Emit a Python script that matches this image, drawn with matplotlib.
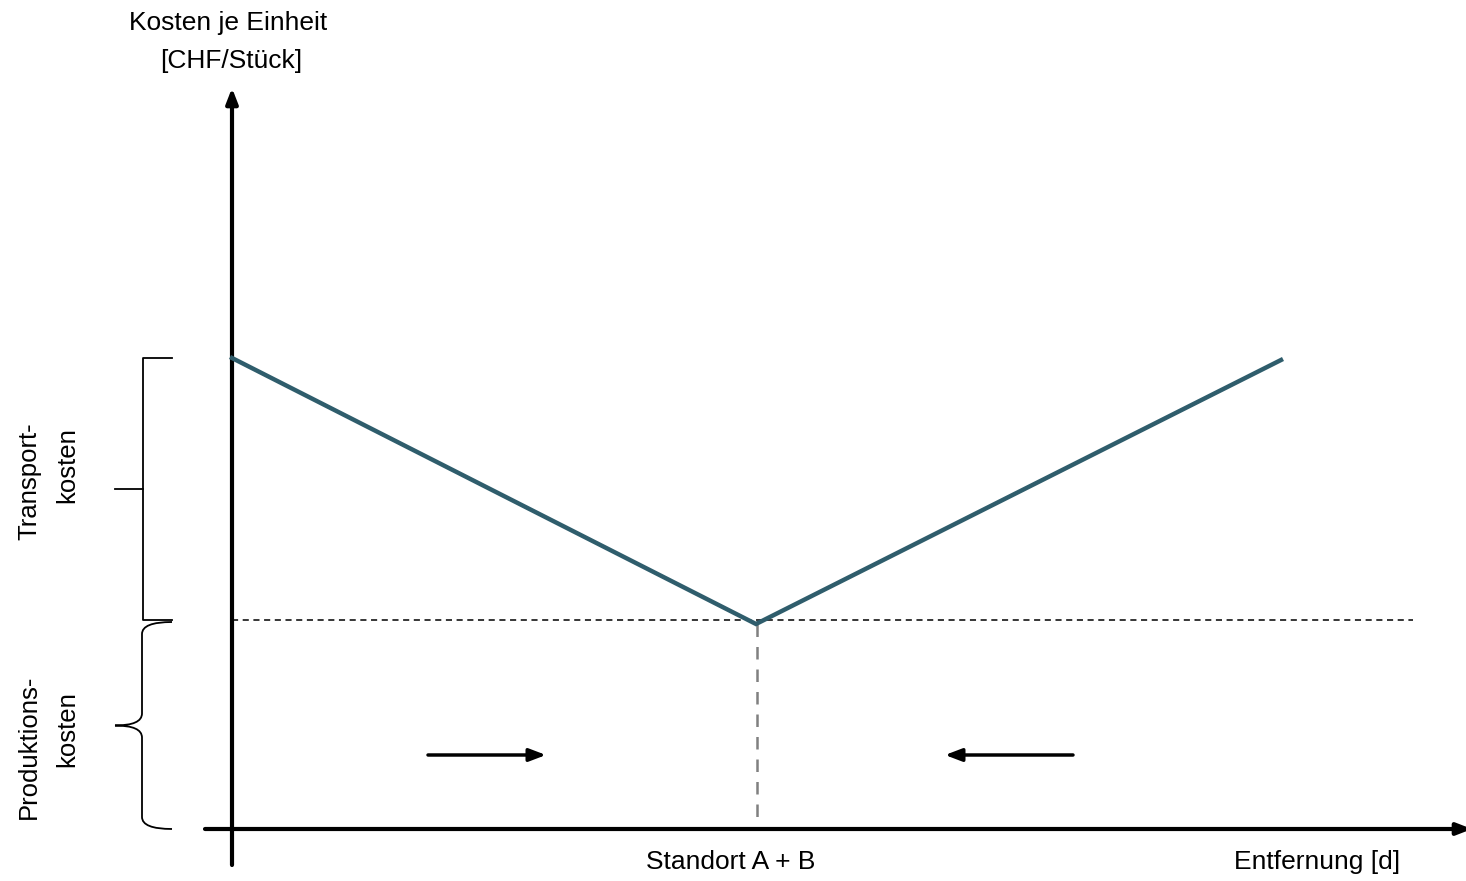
import matplotlib
matplotlib.use("Agg")
import matplotlib.pyplot as plt
from matplotlib.path import Path
from matplotlib.patches import PathPatch

plt.rcParams['font.family'] = ['Liberation Sans', 'DejaVu Sans']

# cost curve (distance, cost per unit) - schematic units
distance = [0.0, 5.24, 10.49]
cost = [4.71, 2.05, 4.69]

prod_cost = 2.09          # level of production costs
prod_line_end = 11.81
standort_x = 5.25

transport_range = (2.09, 4.71)
prod_range = (0.0, 2.07)

fig = plt.figure(figsize=(14.66, 8.81), dpi=100)
ax = fig.add_axes([0, 0, 1, 1])
ax.set_xlim(-2.32, 12.34)
ax.set_ylim(-0.52, 8.29)
ax.axis('off')

# axes with arrows
ax.annotate('', xy=(0, 7.41), xytext=(0, -0.36),
            arrowprops=dict(arrowstyle='-|>,head_length=0.9,head_width=0.35', lw=3, color='black',
                            shrinkA=0, shrinkB=0))
ax.annotate('', xy=(12.40, 0), xytext=(-0.27, 0),
            arrowprops=dict(arrowstyle='-|>,head_length=0.9,head_width=0.35', lw=3, color='black',
                            shrinkA=0, shrinkB=0), annotation_clip=False)

# dashed helper lines
ax.plot([0, prod_line_end], [prod_cost, prod_cost], ls=(0, (4, 3)), color='black', lw=1.1)
ax.plot([standort_x, standort_x], [min(cost), 0.03], ls=(0, (5, 4)), color='#808080', lw=1.8)

# cost curve
ax.plot(distance, cost, color='#2f5d6c', lw=3.2, solid_joinstyle='miter', zorder=3)

# square bracket for transport costs
bx = -0.89
ax.plot([-0.60, bx, bx, -0.60], [transport_range[1], transport_range[1], transport_range[0], transport_range[0]],
        color='black', lw=1.3)
ax.plot([-1.17, bx], [sum(transport_range) / 2] * 2, color='black', lw=1.3)

# curly brace for production costs
lo, hi = prod_range
mid = (lo + hi) / 2
cx = -0.90
r = 0.12
verts = [(-0.60, hi), (cx, hi), (cx, hi - r),
         (cx, mid + r), (cx, mid), (-1.17, mid),
         (cx, mid), (cx, mid - r),
         (cx, lo + r), (cx, lo), (-0.60, lo)]
codes = [Path.MOVETO, Path.CURVE3, Path.CURVE3,
         Path.LINETO, Path.CURVE3, Path.CURVE3,
         Path.CURVE3, Path.CURVE3,
         Path.LINETO, Path.CURVE3, Path.CURVE3]
ax.add_patch(PathPatch(Path(verts, codes), fill=False, lw=1.3, color='black'))

# movement arrows
arrow_y = 0.74
ax.annotate('', xy=(3.14, arrow_y), xytext=(1.96, arrow_y),
            arrowprops=dict(arrowstyle='-|>,head_length=1.0,head_width=0.38', lw=2.5, color='black',
                            shrinkA=0, shrinkB=0))
ax.annotate('', xy=(7.13, arrow_y), xytext=(8.41, arrow_y),
            arrowprops=dict(arrowstyle='-|>,head_length=1.0,head_width=0.38', lw=2.5, color='black',
                            shrinkA=0, shrinkB=0))

# texts
fs = 19
ax.text(-0.035, 8.06, 'Kosten je Einheit', ha='center', va='center', fontsize=fs)
ax.text(-0.005, 7.68, '[CHF/Stück]', ha='center', va='center', fontsize=fs)
ax.text(4.99, -0.33, 'Standort A + B', ha='center', va='center', fontsize=fs)
ax.text(10.855, -0.33, 'Entfernung [d]', ha='center', va='center', fontsize=fs)

fr = 18.5
ax.text(-2.03, 3.48, 'Transport-', ha='center', va='center', rotation=90, fontsize=fr)
ax.text(-1.65, 3.64, 'kosten', ha='center', va='center', rotation=90, fontsize=fr)
ax.text(-2.03, 0.82, 'Produktions-', ha='center', va='center', rotation=90, fontsize=fr)
ax.text(-1.65, 1.00, 'kosten', ha='center', va='center', rotation=90, fontsize=fr)

fig.savefig('out.png', dpi=100)
